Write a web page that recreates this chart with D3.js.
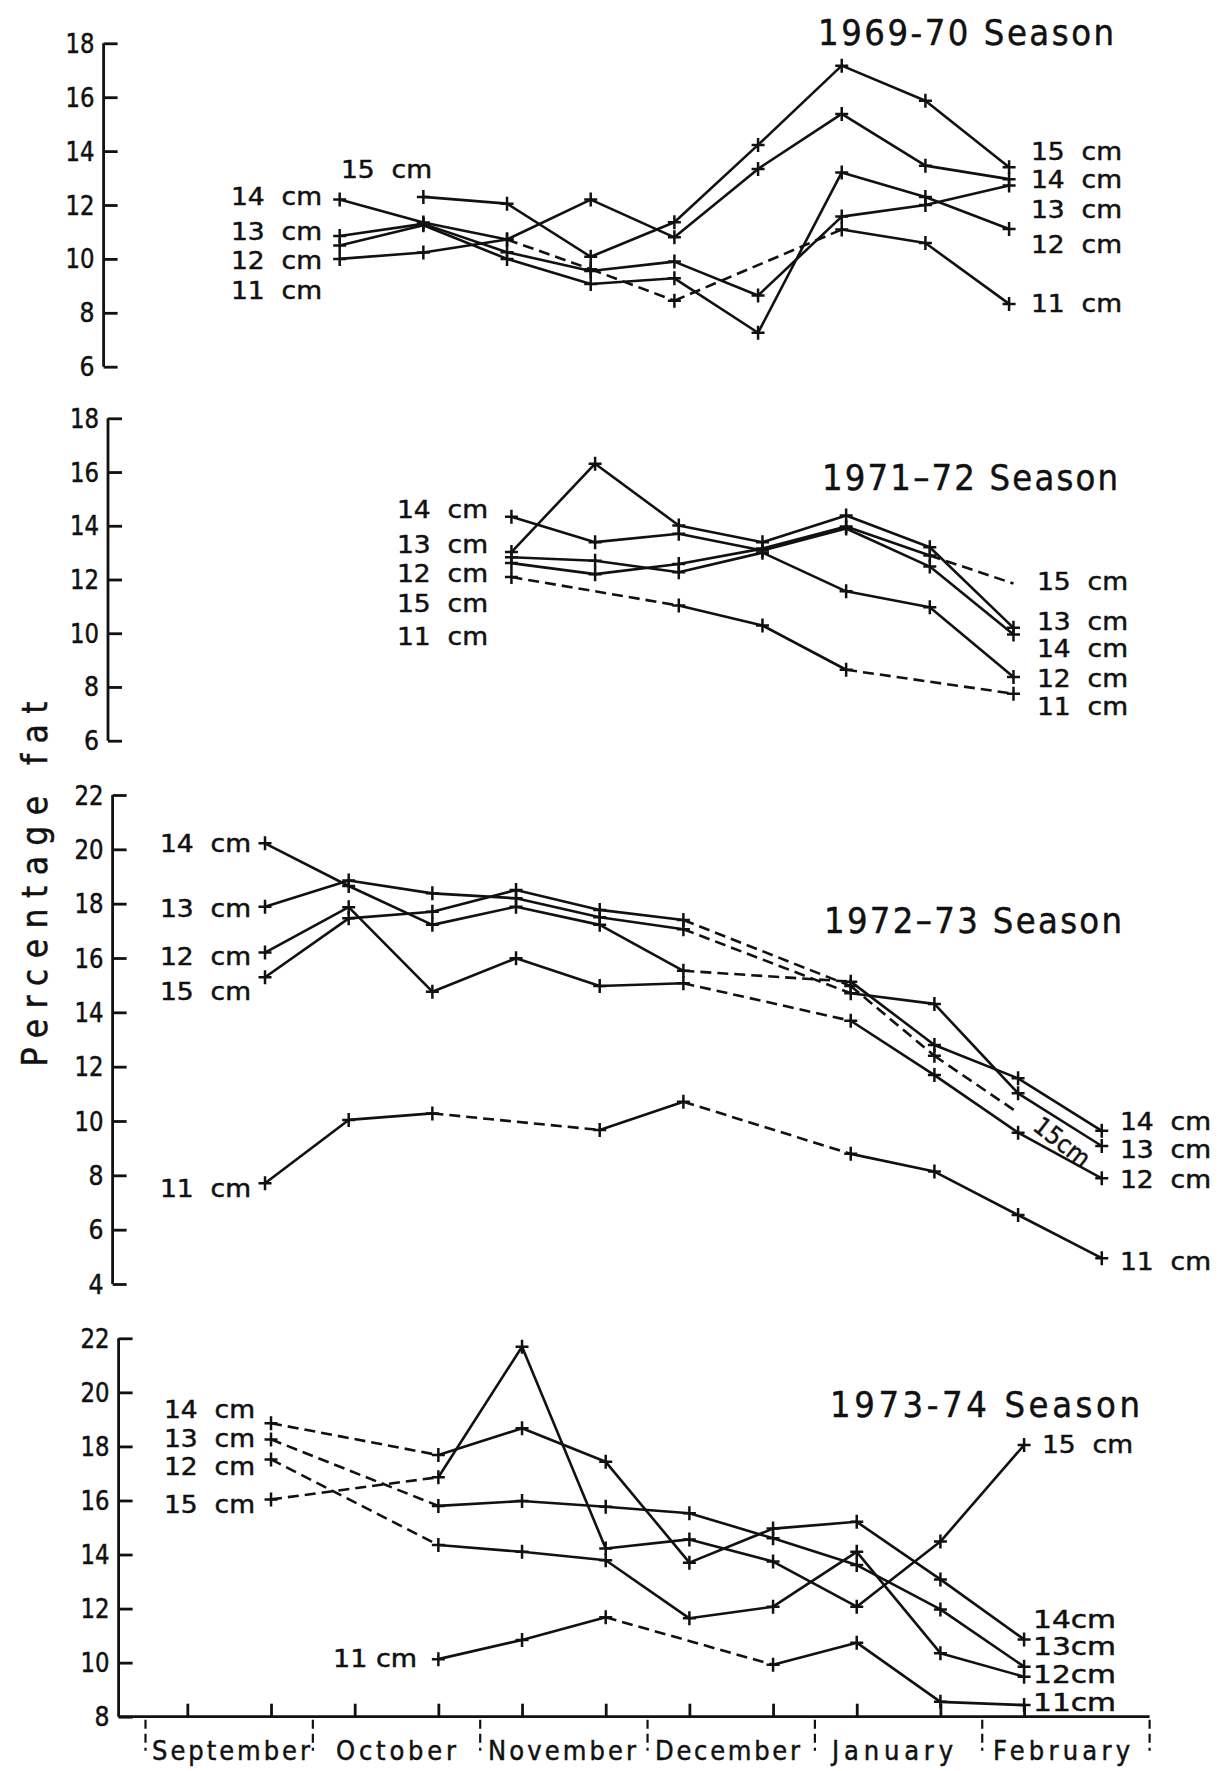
<!DOCTYPE html>
<html><head><meta charset="utf-8">
<script src="https://cdn.jsdelivr.net/npm/d3@7"></script>
<style>
body{margin:0;background:#fff}
svg{display:block;background:#fff}
text{font-family:"DejaVu Sans Condensed","DejaVu Sans",sans-serif;fill:#111;stroke:#111;stroke-width:0.45;white-space:pre}
</style>
</head><body>
<svg id="c" width="1222" height="1771"></svg>
<script>
// ---------------- DATA ----------------
const months = ["September","October","November","December","January","February"];
// sampling dates, in months after 1 September (index 0..11)
const sampleMonths = [0.25,0.75,1.25,1.75,2.25,2.75,3.25,3.75,4.25,4.75,5.25,5.75];
const sizeClasses = ["15 cm","14 cm","13 cm","12 cm","11 cm"];
const seasonTitles = ["1969-70 Season","1971\u201372 Season","1972\u201373 Season","1973-74 Season"];
const yTicksA = [6,8,10,12,14,16,18];
const yTicksB = [4,6,8,10,12,14,16,18,20,22];
const yTicksC = [8,10,12,14,16,18,20,22];
const n = null;

// 1969-70
const s6970_15 = [n,n,n,12.3,12.05,10.08,11.36,14.23,17.17,15.87,13.4,n];
const s6970_14 = [n,n,12.2,11.35,10.72,12.2,10.8,13.34,15.38,13.46,12.96,n];
const s6970_13 = [n,n,10.85,11.3,10.25,9.55,9.9,8.64,11.57,12.0,12.72,n];
const s6970_12 = [n,n,10.5,11.25,10.0,9.07,9.28,7.26,13.21,12.3,11.11,n];
const s6970_11 = [n,n,10.0,10.24,10.72,9.62,8.45,n,11.09,10.59,8.33,n];
// 1971-72
const s7172_15 = [n,n,n,n,12.61,12.2,12.58,13.15,13.97,12.89,11.85,n];
const s7172_14 = [n,n,n,n,14.34,13.39,13.7,13.08,13.9,12.48,9.95,n];
const s7172_13 = [n,n,n,n,13.02,16.31,14.01,13.39,14.38,13.2,10.2,n];
const s7172_12 = [n,n,n,n,12.83,12.7,12.27,13.0,11.56,10.97,8.37,n];
const s7172_11 = [n,n,n,n,12.09,n,11.03,10.29,8.64,n,7.75,n];
// 1972-73
const s7273_15 = [n,15.29,17.46,17.7,18.5,17.77,17.4,n,14.97,12.4,10.3,n];
const s7273_14 = [n,20.22,18.65,17.22,17.89,17.22,15.53,n,15.13,12.8,11.57,9.64];
const s7273_13 = [n,17.89,18.85,18.38,18.2,17.5,17.06,n,14.7,14.31,11.02,9.08];
const s7273_12 = [n,16.2,17.87,14.76,15.99,14.97,15.07,n,13.69,11.69,9.57,7.89];
const s7273_11 = [n,7.71,10.04,10.28,n,9.67,10.71,n,8.79,8.14,6.54,4.95];
// 1973-74
const s7374_15 = [n,16.04,n,16.86,21.69,14.22,14.56,13.74,12.07,14.48,18.05,n];
const s7374_14 = [n,18.86,n,17.68,18.67,17.43,13.7,14.96,15.21,13.08,10.86,n];
const s7374_13 = [n,18.26,n,15.8,15.98,15.77,15.53,14.6,13.61,11.97,9.85,n];
const s7374_12 = [n,17.52,n,14.35,14.1,13.79,11.64,12.07,14.1,10.35,9.48,n];
const s7374_11 = [n,n,n,10.13,10.84,11.68,n,9.92,10.74,8.55,8.43,n];

// segments (by starting sample index) drawn as broken lines
const broken6970 = {"11 cm":[4,5,6]};
const broken7172 = {"15 cm":[9],"11 cm":[4,8]};
const broken7273 = {"15 cm":[6,8,9],"14 cm":[6],"13 cm":[6],"12 cm":[6],"11 cm":[3,6]};
const broken7374 = {"15 cm":[1],"14 cm":[1],"13 cm":[1],"12 cm":[1],"11 cm":[5]};
// points shown without a cross
const unmarked7172 = {"15 cm":[10]};
const unmarked7273 = {"15 cm":[10]};

// ---------------- LAYOUT ----------------
const svg = d3.select("#c");
const X0 = 145.5, X1 = 1149.6;
const x = d3.scaleLinear().domain([0,6]).range([X0,X1]);

const panels = [
  {title:seasonTitles[0], tx:818, ty:45, tw:296, axisX:103.6, ticks:yTicksA, dom:[6,18], rng:[366.7,43.3],
   series:[s6970_15,s6970_14,s6970_13,s6970_12,s6970_11], broken:broken6970, unmarked:{},
   labels:[["14 cm",322,205,"end"],["13 cm",322,240,"end"],["12 cm",322,269,"end"],["11 cm",322,299,"end"],["15 cm",341,178,"start"],
           ["15 cm",1031,160,"start"],["14 cm",1031,188,"start"],["13 cm",1031,218,"start"],["12 cm",1031,253,"start"],["11 cm",1031,312,"start"]]},
  {title:seasonTitles[1], tx:822, ty:490, tw:296, axisX:108, ticks:yTicksA, dom:[6,18], rng:[740.7,418.3],
   series:[s7172_15,s7172_14,s7172_13,s7172_12,s7172_11], broken:broken7172, unmarked:unmarked7172,
   labels:[["14 cm",488,518,"end"],["13 cm",488,553,"end"],["12 cm",488,582,"end"],["15 cm",488,612,"end"],["11 cm",488,645,"end"],
           ["15 cm",1037,590,"start"],["13 cm",1037,630,"start"],["14 cm",1037,657,"start"],["12 cm",1037,687,"start"],["11 cm",1037,715,"start"]]},
  {title:seasonTitles[2], tx:824, ty:933, tw:298, axisX:112.6, ticks:yTicksB, dom:[4,22], rng:[1284,795],
   series:[s7273_15,s7273_14,s7273_13,s7273_12,s7273_11], broken:broken7273, unmarked:unmarked7273,
   labels:[["14 cm",251,852,"end"],["13 cm",251,917,"end"],["12 cm",251,965,"end"],["15 cm",251,1000,"end"],["11 cm",251,1197,"end"],
           ["14 cm",1120,1130,"start"],["13 cm",1120,1158,"start"],["12 cm",1120,1188,"start"],["11 cm",1120,1270,"start"]]},
  {title:seasonTitles[3], tx:830, ty:1417, tw:310, axisX:118.6, ticks:yTicksC, dom:[8,22], rng:[1716.7,1338.3],
   series:[s7374_15,s7374_14,s7374_13,s7374_12,s7374_11], broken:broken7374, unmarked:{},
   labels:[["14 cm",255,1418,"end"],["13 cm",255,1447,"end"],["12 cm",255,1475,"end"],["15 cm",255,1513,"end"],["11 cm",417,1667,"end",84],
           ["15 cm",1042,1453,"start"],["14cm",1033,1628,"start",83],["13cm",1033,1655,"start",83],["12cm",1033,1683,"start",83],["11cm",1033,1711,"start",83]]}
];

const INK = "#111";
panels.forEach((p, pi) => {
  const dx = p.axisX - 118.6;            // each panel is slightly shifted in the original
  const y = d3.scaleLinear().domain(p.dom).range(p.rng);
  const g = svg.append("g");

  // y axis
  const ax = g.append("g").attr("transform", `translate(${p.axisX},0)`)
    .call(d3.axisRight(y).tickValues(p.ticks).tickSize(14).tickFormat(""));
  ax.select(".domain").attr("d", `M0,${y(p.dom[0])}V${y(p.dom[1])}`).attr("stroke",INK).attr("stroke-width",2.8);
  ax.selectAll(".tick line").attr("stroke",INK).attr("stroke-width",2.8);
  g.selectAll("text.ytl").data(p.ticks).enter().append("text")
    .attr("class","ytl").attr("x", p.axisX - 9).attr("y", d => y(d) + 9.5)
    .attr("text-anchor","end").attr("font-size",27)
    .attr("textLength", d => d >= 10 ? 29 : 15).attr("lengthAdjust","spacingAndGlyphs").text(d => d);

  // title
  g.append("text").attr("x",p.tx).attr("y",p.ty).attr("font-size",36)
    .attr("textLength",p.tw).attr("lengthAdjust","spacing").text(p.title);

  // series
  const line = d3.line().x(d => x(sampleMonths[d.i]) + dx).y(d => y(d.v));
  p.series.forEach((vals, si) => {
    const name = sizeClasses[si];
    const pts = vals.map((v,i)=>({i,v})).filter(d => d.v !== null);
    const br = p.broken[name] || [];
    for (let k = 0; k < pts.length - 1; k++) {
      g.append("path").attr("d", line([pts[k], pts[k+1]]))
        .attr("fill","none").attr("stroke",INK).attr("stroke-width",2.6)
        .attr("stroke-dasharray", br.includes(pts[k].i) ? "11,6" : null);
    }
    const um = p.unmarked[name] || [];
    pts.filter(d => !um.includes(d.i)).forEach(d => {
      const cx = x(sampleMonths[d.i]) + dx, cy = y(d.v);
      g.append("path").attr("d", `M${cx-6.5},${cy}H${cx+6.5}M${cx},${cy-7}V${cy+7}`)
        .attr("stroke",INK).attr("stroke-width",2.5).attr("fill","none");
    });
  });

  // size-class labels
  p.labels.forEach(l => {
    const t = l[4] ? l[0] : l[0].replace(" ", "  ");
    g.append("text").attr("x",l[1]).attr("y",l[2]).attr("text-anchor",l[3])
      .attr("font-size",25).attr("textLength", l[4] || 91).attr("lengthAdjust","spacingAndGlyphs").text(t);
  });
  if (pi === 2) {
    g.append("text").attr("transform","translate(1062,1142) rotate(38)")
      .attr("text-anchor","middle").attr("dominant-baseline","central")
      .attr("font-size",25).attr("textLength",64).attr("lengthAdjust","spacingAndGlyphs").text("15cm");
  }

  // time axis on the lowest panel
  if (pi === 3) {
    const yb = y(p.dom[0]);
    const xa = g.append("g").attr("transform",`translate(0,${yb})`)
      .call(d3.axisTop(x).tickValues(sampleMonths.slice(0,11)).tickSize(13).tickFormat(""));
    xa.select(".domain").attr("d", `M${p.axisX},0H${X1}`).attr("stroke",INK).attr("stroke-width",2.8);
    xa.selectAll(".tick line").attr("stroke",INK).attr("stroke-width",2.8);
    g.selectAll("line.mb").data(d3.range(0,7)).enter().append("line")
      .attr("x1",d=>x(d)).attr("x2",d=>x(d)).attr("y1",yb+3).attr("y2",yb+34)
      .attr("stroke",INK).attr("stroke-width",2.2).attr("stroke-dasharray","9,5");
    const mw = [158,120,148,145,121,137];
    const mx = [152,336,488,655,832,993];
    months.forEach((m,k) => {
      g.append("text").attr("x",mx[k]).attr("y",1760).attr("font-size",27)
        .attr("textLength",mw[k]).attr("lengthAdjust","spacing").text(m);
    });
  }
});

// y axis title
svg.append("text").attr("transform","translate(47,884) rotate(-90)")
  .attr("text-anchor","middle").attr("font-size",35)
  .attr("textLength",365).attr("lengthAdjust","spacing").text("Percentage fat");
</script>
</body></html>
